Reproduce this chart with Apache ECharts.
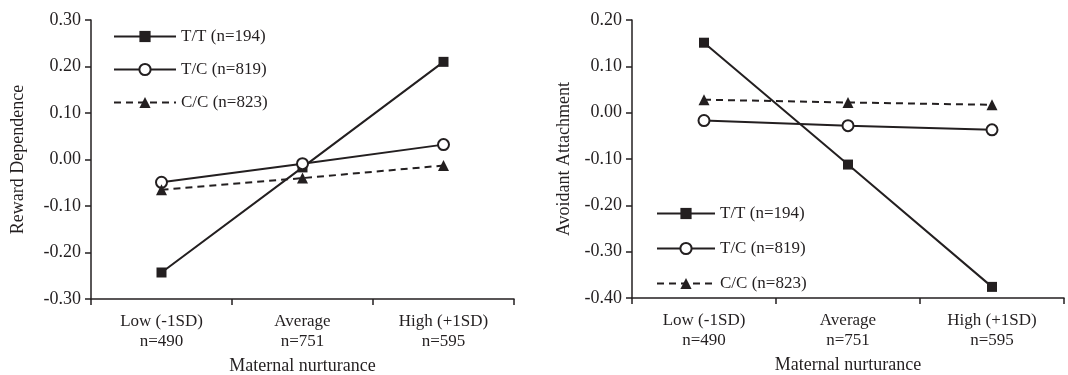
<!DOCTYPE html>
<html><head><meta charset="utf-8">
<script src="https://cdn.jsdelivr.net/npm/echarts@6/dist/echarts.min.js"></script>
<style>html,body{margin:0;padding:0;background:#fff}#c{width:1068px;height:375px}</style>
</head><body><div id="c"></div>
<script>
const categories = ['Low (-1SD)\nn=490', 'Average\nn=751', 'High (+1SD)\nn=595'];
const seriesNames = ['T/T (n=194)', 'T/C (n=819)', 'C/C (n=823)'];
const rewardTT = [-0.243, -0.017, 0.21];
const rewardTC = [-0.049, -0.009, 0.032];
const rewardCC = [-0.065, -0.040, -0.013];
const avoidTT = [0.151, -0.112, -0.376];
const avoidTC = [-0.017, -0.028, -0.037];
const avoidCC = [0.028, 0.022, 0.017];

const ink = '#231f20';
const font = 'Liberation Serif';
const txt = {color: ink, fontFamily: font, fontSize: 17};

function xAxis(gi){
  return {type:'category', gridIndex:gi, data:categories, boundaryGap:true,
    name:'Maternal nurturance', nameLocation:'middle', nameGap:57, nameTextStyle:{...txt, fontSize:18},
    axisLine:{onZero:false,lineStyle:{color:ink,width:1.5}}, axisTick:{show:true,length:6,lineStyle:{color:ink,width:1.5}},
    axisLabel:{...txt, margin:13, lineHeight:20}, splitLine:{show:false}};
}
function yAxis(gi,min,max,name,gap){
  return {type:'value', gridIndex:gi, min:min, max:max, interval:0.1,
    name:name, nameLocation:'middle', nameGap:gap, nameTextStyle:{...txt, fontSize:18},
    axisLine:{show:true,onZero:false,lineStyle:{color:ink,width:1.5}}, axisTick:{show:true,length:6,lineStyle:{color:ink,width:1.5}},
    axisLabel:{...txt, fontSize:18, margin:10, formatter:v=>v.toFixed(2)}, splitLine:{show:false}};
}
function mk(name, data, gi, kind){
  const s = {name:name, type:'line', xAxisIndex:gi, yAxisIndex:gi, data:data, animation:false,
    lineStyle:{color:ink,width:2}, itemStyle:{color:ink}, emphasis:{disabled:true}};
  if(kind===0){ s.symbol='rect'; s.symbolSize=10; }
  if(kind===1){ s.symbol='circle'; s.symbolSize=11; s.itemStyle={color:'#fff',borderColor:ink,borderWidth:2}; }
  if(kind===2){ s.symbol='triangle'; s.symbolSize=11; s.lineStyle={color:ink,width:2,type:[7,5]}; }
  return s;
}
const chart = echarts.init(document.getElementById('c'));
chart.setOption({
  backgroundColor:'#fff',
  grid:[{left:91, top:20, width:423, height:279, outerBoundsMode:'none', containLabel:false},
        {left:632, top:20, width:432, height:278, outerBoundsMode:'none', containLabel:false}],
  xAxis:[xAxis(0), xAxis(1)],
  yAxis:[yAxis(0,-0.3,0.3,'Reward Dependence',64), yAxis(1,-0.4,0.2,'Avoidant Attachment',59)],
  legend:[
    {left:108, top:23, orient:'vertical', itemWidth:62, itemHeight:14, itemGap:16, textStyle:{...txt}, data:seriesNames, selectedMode:false},
    {left:651, top:200, orient:'vertical', itemWidth:58, itemHeight:14, itemGap:18, textStyle:{...txt}, data:seriesNames, selectedMode:false}
  ],
  series:[
    mk(seriesNames[0], rewardTT, 0, 0), mk(seriesNames[1], rewardTC, 0, 1), mk(seriesNames[2], rewardCC, 0, 2),
    mk(seriesNames[0], avoidTT, 1, 0), mk(seriesNames[1], avoidTC, 1, 1), mk(seriesNames[2], avoidCC, 1, 2)
  ]
});
</script></body></html>
